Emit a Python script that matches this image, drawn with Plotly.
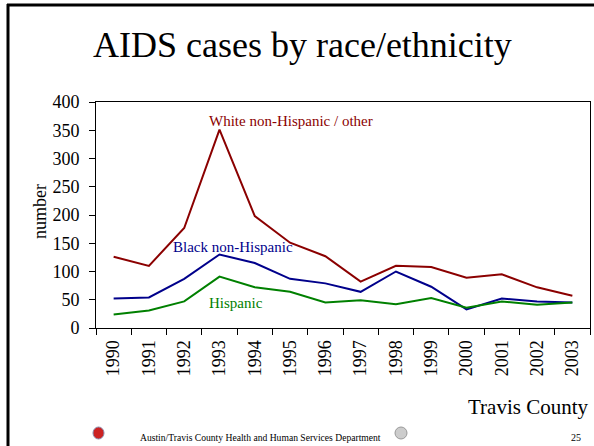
import plotly.graph_objects as go

years = [str(y) for y in range(1990, 2004)]
white = [126, 110, 177, 351, 198, 151, 127, 82, 110, 108, 89, 95, 72, 57]
black = [52, 54, 87, 130, 115, 87, 79, 64, 100, 73, 33, 52, 47, 45]
hispanic = [24, 31, 47, 91, 72, 64, 45, 49, 42, 53, 36, 47, 41, 45]

series_names = ["White non-Hispanic / other", "Black non-Hispanic", "Hispanic"]
colors = ["#8B0000", "#00008B", "#008000"]

W, H = 594, 446
L, R, T, B = 96, 590, 102, 328


def px(x):
    return (x - L) / (R - L)


def py(y):
    return (B - y) / (B - T)


fig = go.Figure()
for vals, c, n in zip([white, black, hispanic], colors, series_names):
    fig.add_trace(go.Scatter(x=years, y=vals, mode="lines", name=n,
                             line=dict(color=c, width=2), showlegend=False))

serif = "Liberation Serif, Times New Roman, serif"

fig.update_layout(
    width=W, height=H,
    margin=dict(l=L, r=W - R, t=T, b=H - B, pad=0),
    paper_bgcolor="white", plot_bgcolor="white",
    font=dict(family=serif, color="black"),
    xaxis=dict(type="category", range=[-0.5, len(years) - 0.5], tickson="boundaries",
               ticks="outside", ticklen=6, ticklabelstandoff=4,
               tickwidth=1, tickcolor="black", showline=True, linecolor="black",
               linewidth=1, mirror=True, showgrid=False, tickangle=-90,
               tickfont=dict(size=18, family=serif), zeroline=False),
    yaxis=dict(range=[0, 400], dtick=50, ticks="outside", ticklen=6, tickwidth=1,
               ticklabelstandoff=6,
               tickcolor="black", showline=True, linecolor="black", linewidth=1,
               mirror=True, showgrid=False, zeroline=False,
               tickfont=dict(size=18, family=serif)),
)

ann = [
    dict(text="AIDS cases by race/ethnicity", x=px(302), y=py(45), size=36, color="black", xa="center"),
    dict(text="White non-Hispanic / other", x=px(291), y=py(121), size=15, color=colors[0], xa="center"),
    dict(text="Black non-Hispanic", x=px(233), y=py(247), size=15, color=colors[1], xa="center"),
    dict(text="Hispanic", x=px(236), y=py(303), size=15, color=colors[2], xa="center"),
    dict(text="Travis County", x=px(591), y=py(407), size=21, color="black", xa="right"),
    dict(text="Austin/Travis County Health and Human Services Department", x=px(138), y=py(437), size=9.6, color="black", xa="left"),
    dict(text="25", x=px(583), y=py(437), size=10, color="black", xa="right"),
]
for a in ann:
    fig.add_annotation(text=a["text"], x=a["x"], y=a["y"], xref="paper", yref="paper",
                       showarrow=False, xanchor=a["xa"], yanchor="middle",
                       font=dict(size=a["size"], color=a["color"], family=serif))

fig.add_annotation(text="number", textangle=-90, x=px(40), y=py(212), xref="paper", yref="paper",
                   showarrow=False, xanchor="center", yanchor="middle",
                   font=dict(size=18, family=serif, color="black"))

# slide frame
fig.add_shape(type="line", xref="paper", yref="paper", x0=px(7), x1=px(600), y0=py(5), y1=py(5),
              line=dict(color="black", width=3))
fig.add_shape(type="line", xref="paper", yref="paper", x0=px(8), x1=px(8), y0=py(4), y1=py(450),
              line=dict(color="black", width=3))

# small logos
fig.add_shape(type="circle", xref="paper", yref="paper", x0=px(93), x1=px(104), y0=py(427), y1=py(439),
              fillcolor="#cc2222", line=dict(color="#8888aa", width=1))
fig.add_shape(type="circle", xref="paper", yref="paper", x0=px(395), x1=px(407), y0=py(427), y1=py(439),
              fillcolor="#cccccc", line=dict(color="#999999", width=1))

fig.write_html("out.html", config={"displayModeBar": False},
               post_script="document.body.style.margin='0';document.body.style.overflow='hidden';")
